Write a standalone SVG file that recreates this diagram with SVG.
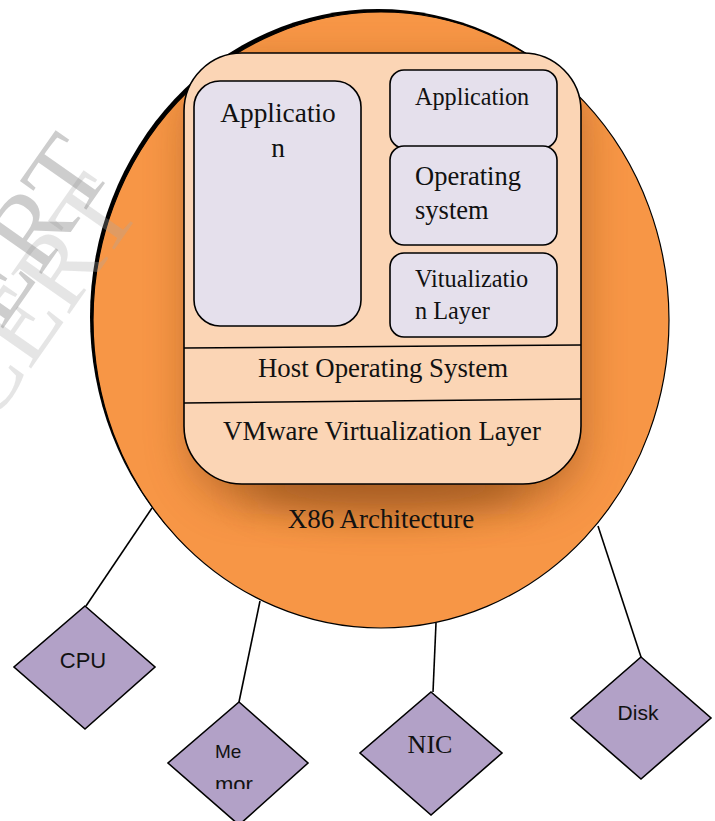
<svg xmlns="http://www.w3.org/2000/svg" width="715" height="821" viewBox="0 0 715 821">
  <defs>
    <style>
      .serif { font-family: "Liberation Serif", "Times New Roman", serif; fill: #111; }
      .sans { font-family: "Liberation Sans", Arial, sans-serif; fill: #111; }
      .panel { fill: #E5E0EC; stroke: #000; stroke-width: 1.6; }
      .diamond { fill: #B2A1C7; stroke: #000; stroke-width: 1.6; }
      .wire { stroke: #000; stroke-width: 1.6; fill: none; }
      .mark { font-family: "Liberation Serif", "Times New Roman", serif; font-size: 108px; }
    </style>
    <clipPath id="discClip">
      <ellipse cx="381" cy="320" rx="288" ry="308"/>
    </clipPath>
    <clipPath id="memClip">
      <rect x="160" y="700" width="160" height="89"/>
    </clipPath>
    <filter id="soft" x="-30%" y="-30%" width="160%" height="160%">
      <feGaussianBlur stdDeviation="22"/>
    </filter>
    <filter id="softer" x="-50%" y="-100%" width="200%" height="300%">
      <feGaussianBlur stdDeviation="18"/>
    </filter>
  </defs>

  <!-- X86 architecture disc -->
  <g id="x86">
    <ellipse cx="378" cy="317" rx="288" ry="308" fill="#000"/>
    <ellipse cx="381" cy="320" rx="288" ry="308" fill="#F79646" stroke="#000" stroke-width="1.2"/>
    <g clip-path="url(#discClip)">
      <rect x="190" y="70" width="390" height="430" rx="60" fill="#8a4a18" opacity="0.55" filter="url(#soft)"/>
      <ellipse cx="385" cy="486" rx="140" ry="30" fill="#8a4a18" opacity="0.5" filter="url(#softer)"/>
    </g>
    <text class="serif" x="381" y="528" font-size="27" text-anchor="middle">X86 Architecture</text>
  </g>

  <!-- faint diagonal watermark -->
  <g id="watermark">
    <text class="mark" x="0" y="0" fill="#aaa" fill-opacity="0.3" transform="translate(-12,430) rotate(-55)">CERT</text>
    <text class="mark" x="0" y="0" fill="#888" fill-opacity="0.42" transform="translate(-40,390) rotate(-55)">CERT</text>
  </g>

  <!-- host stack -->
  <g id="host">
    <rect x="184" y="53" width="397" height="431" rx="58" fill="#FBD5B5" stroke="#000" stroke-width="1.6"/>
    <line x1="184" y1="348" x2="581" y2="345" class="wire"/>
    <line x1="184" y1="403" x2="581" y2="399" class="wire"/>
    <text class="serif" x="383" y="377" font-size="26.8" text-anchor="middle">Host Operating System</text>
    <text class="serif" x="382" y="440" font-size="26.8" text-anchor="middle">VMware Virtualization Layer</text>
  </g>

  <g id="app-left">
    <rect class="panel" x="194" y="81" width="167" height="245" rx="26"/>
    <text class="serif" x="278" y="122" font-size="27.4" text-anchor="middle">Applicatio</text>
    <text class="serif" x="278" y="157" font-size="27.4" text-anchor="middle">n</text>
  </g>

  <g id="app-guest">
    <rect class="panel" x="390" y="70" width="167" height="78" rx="14"/>
    <text class="serif" x="415" y="105" font-size="24.2">Application</text>
  </g>

  <g id="guest-os">
    <rect class="panel" x="390" y="146" width="167" height="99" rx="14"/>
    <text class="serif" x="415" y="185" font-size="26.5">Operating</text>
    <text class="serif" x="415" y="219" font-size="26.5">system</text>
  </g>

  <g id="guest-virt">
    <rect class="panel" x="390" y="253" width="167" height="84" rx="14"/>
    <text class="serif" x="415" y="287" font-size="24.3">Vitualizatio</text>
    <text class="serif" x="415" y="319" font-size="24.3">n Layer</text>
  </g>

  <!-- links from the disc to the devices -->
  <g id="connectors">
    <line class="wire" x1="152" y1="508" x2="86" y2="606"/>
    <line class="wire" x1="260" y1="601" x2="239" y2="702"/>
    <line class="wire" x1="436" y1="623" x2="433" y2="692"/>
    <line class="wire" x1="598" y1="526" x2="641" y2="657"/>
  </g>

  <g id="cpu">
    <polygon class="diamond" points="85,606 155,667 85,729 14,667"/>
    <text class="sans" x="83" y="668" font-size="22" text-anchor="middle">CPU</text>
  </g>

  <g id="memory">
    <polygon class="diamond" points="239,702 308,763 239,825 168,763"/>
    <g clip-path="url(#memClip)">
      <text class="sans" x="215" y="758" font-size="19">Me</text>
      <text class="sans" x="215" y="792" font-size="22">mor</text>
    </g>
  </g>

  <g id="nic">
    <polygon class="diamond" points="431,692 502,753 431,815 360,753"/>
    <text class="serif" x="430" y="753" font-size="26" text-anchor="middle">NIC</text>
  </g>

  <g id="disk">
    <polygon class="diamond" points="641,657 711,718 641,779 571,718"/>
    <text class="sans" x="638" y="720" font-size="21" text-anchor="middle">Disk</text>
  </g>
</svg>
